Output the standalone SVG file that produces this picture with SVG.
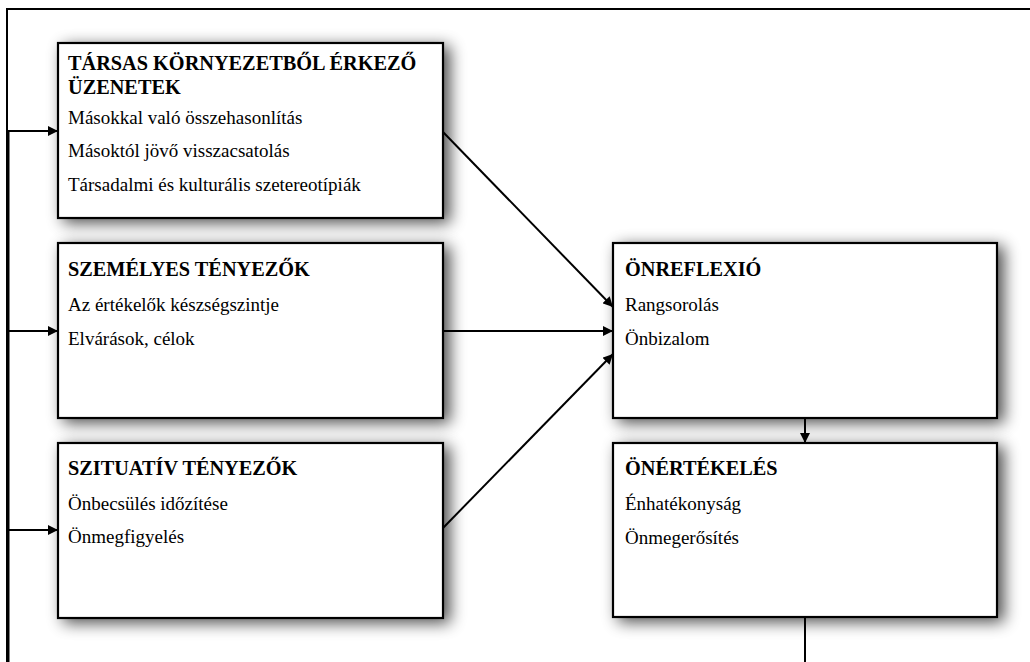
<svg xmlns="http://www.w3.org/2000/svg" width="1030" height="662" viewBox="0 0 1030 662">
<style>
.box{fill:#fff;stroke:#000;stroke-width:2.2}
.t{font-family:"Liberation Serif","Times New Roman",serif;font-weight:bold;font-size:20.3px;fill:#000}
.b{font-family:"Liberation Serif","Times New Roman",serif;font-size:19px;fill:#000}
.c{stroke:#000;stroke-width:2;fill:none}
</style>
<defs>
<filter id="sh" x="-15%" y="-25%" width="135%" height="160%">
<feGaussianBlur in="SourceAlpha" stdDeviation="8"/>
<feOffset dx="6" dy="4" result="o"/>
<feComponentTransfer><feFuncA type="linear" slope="0.7"/></feComponentTransfer>
<feMerge><feMergeNode/><feMergeNode in="SourceGraphic"/></feMerge>
</filter>
<marker id="ah" viewBox="0 0 10 10" refX="10" refY="5" markerWidth="5" markerHeight="5" orient="auto" markerUnits="strokeWidth">
<path d="M0,0 L10,5 L0,10 z" fill="#000"/>
</marker>
</defs>
<rect width="1030" height="662" fill="#fff"/>
<g id="frame">
<path d="M7,662 L7,9 L1030,9" stroke="#000" stroke-width="2" fill="none"/>
</g>
<g id="connectors">
<path class="c" d="M805,618 L805,662"/>
<path class="c" d="M8.5,662 L8.5,131"/>
<path class="c" d="M8,131 L58,131" marker-end="url(#ah)"/>
<path class="c" d="M8,331 L58,331" marker-end="url(#ah)"/>
<path class="c" d="M8,530 L58,530" marker-end="url(#ah)"/>
<path class="c" d="M443,132 L613,307" marker-end="url(#ah)"/>
<path class="c" d="M443,331 L613,331" marker-end="url(#ah)"/>
<path class="c" d="M443,528 L613,354" marker-end="url(#ah)"/>
<path class="c" d="M805,418 L805,443" marker-end="url(#ah)"/>
</g>
<g id="node-tarsas">
<rect class="box" x="58" y="43" width="385" height="175" filter="url(#sh)"/>
<text class="t" x="68" y="70">TÁRSAS KÖRNYEZETBŐL ÉRKEZŐ</text>
<text class="t" x="68" y="94">ÜZENETEK</text>
<text class="b" x="68" y="124">Másokkal való összehasonlítás</text>
<text class="b" x="68" y="157">Másoktól jövő visszacsatolás</text>
<text class="b" x="68" y="191">Társadalmi és kulturális szetereotípiák</text>
</g>
<g id="node-szemelyes">
<rect class="box" x="58" y="243" width="385" height="175" filter="url(#sh)"/>
<text class="t" x="68" y="276">SZEMÉLYES TÉNYEZŐK</text>
<text class="b" x="68" y="311">Az értékelők készségszintje</text>
<text class="b" x="68" y="345">Elvárások, célok</text>
</g>
<g id="node-szituativ">
<rect class="box" x="58" y="443" width="385" height="175" filter="url(#sh)"/>
<text class="t" x="68" y="475">SZITUATÍV TÉNYEZŐK</text>
<text class="b" x="68" y="510">Önbecsülés időzítése</text>
<text class="b" x="68" y="543">Önmegfigyelés</text>
</g>
<g id="node-onreflexio">
<rect class="box" x="613" y="243" width="384" height="175" filter="url(#sh)"/>
<text class="t" x="625" y="276">ÖNREFLEXIÓ</text>
<text class="b" x="625" y="311">Rangsorolás</text>
<text class="b" x="625" y="345">Önbizalom</text>
</g>
<g id="node-onertekeles">
<rect class="box" x="613" y="443" width="384" height="174" filter="url(#sh)"/>
<text class="t" x="625" y="475">ÖNÉRTÉKELÉS</text>
<text class="b" x="625" y="510">Énhatékonyság</text>
<text class="b" x="625" y="544">Önmegerősítés</text>
</g>
</svg>
